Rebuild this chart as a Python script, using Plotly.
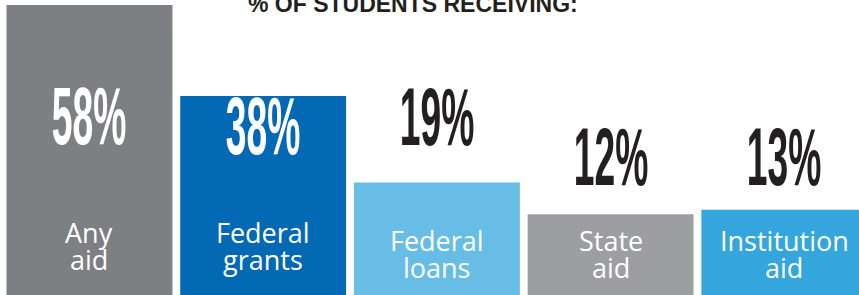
import plotly.graph_objects as go

categories = ["Any aid", "Federal grants", "Federal loans", "State aid", "Institution aid"]
values = [58, 38, 19, 12, 13]
value_labels = ["58%", "38%", "19%", "12%", "13%"]
title_text = "% OF STUDENTS RECEIVING:"

bar_colors = ["#7e7f83", "#0369b5", "#67bde6", "#9d9ea2", "#35a6dd"]
num_colors = ["#ffffff", "#ffffff", "#231f20", "#231f20", "#231f20"]

W, H = 859, 295
Y_BOTTOM, Y_TOP = -5.74, 59.1

fig = go.Figure()
fig.add_trace(go.Bar(
    x=categories,
    y=[v - Y_BOTTOM + 0.5 for v in values],
    base=Y_BOTTOM - 0.5,
    marker=dict(color=bar_colors, line=dict(width=0)),
    hoverinfo="skip",
))

def py(pix):
    return 1 - pix / H

# number labels (inside for tall bars, above for short)
num_centers = [116, 126, 117, 157, 157]
for cat, txt, col, yc in zip(categories, value_labels, num_colors, num_centers):
    fig.add_annotation(x=cat, xref="x", y=py(yc), yref="paper", text=txt,
                       showarrow=False, yanchor="middle", xanchor="center",
                       font=dict(family="Liberation Sans", size=81, color=col, weight="bold"))

# category labels split into two lines
line_centers = [(232, 259), (232, 259), (240, 267), (240, 267), (240, 267)]
for cat, (y1, y2) in zip(categories, line_centers):
    parts = cat.split(" ", 1)
    for part, yc in zip(parts, (y1, y2)):
        fig.add_annotation(x=cat, xref="x", y=py(yc), yref="paper", text=part,
                           showarrow=False, yanchor="middle", xanchor="center",
                           font=dict(family="Open Sans", size=27, color="#ffffff"))

fig.add_annotation(x=413 / W, xref="paper", y=py(4), yref="paper", text=title_text,
                   showarrow=False, yanchor="middle", xanchor="center",
                   font=dict(family="Liberation Sans", size=23, color="#231f20", weight="bold"))

fig.update_layout(
    width=W, height=H,
    margin=dict(l=0, r=0, t=0, b=0),
    paper_bgcolor="#ffffff", plot_bgcolor="#ffffff",
    bargap=0.045, showlegend=False, hovermode=False,
    xaxis=dict(visible=False, range=[-0.515, 4.43], type="category", fixedrange=True),
    yaxis=dict(visible=False, range=[Y_BOTTOM, Y_TOP], fixedrange=True),
)

post = """
document.body.style.margin='0';
document.body.style.padding='0';
document.querySelectorAll('.annotation-text').forEach(function(t){
  var s = t.textContent;
  if (s.length <= 3 && s.indexOf('%') > 0) {
    t.style.transformBox = 'fill-box';
    t.style.transformOrigin = 'center';
    t.style.transform = 'scaleX(0.46)';
  }
});
"""
fig.write_html("out.html", post_script=post, config={"displayModeBar": False})
